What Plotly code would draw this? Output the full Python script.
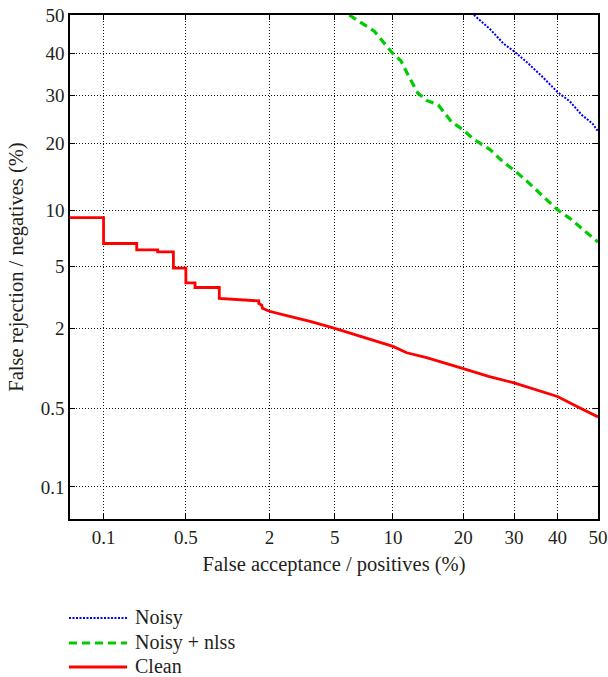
import plotly.graph_objects as go
from statistics import NormalDist

_nd = NormalDist()


def probit(pcts):
    return [_nd.inv_cdf(p / 100.0) for p in pcts]


# Tick labels (percent) on both axes
tick_values = [0.1, 0.5, 2, 5, 10, 20, 30, 40, 50]
tick_labels = ["0.1", "0.5", "2", "5", "10", "20", "30", "40", "50"]

# Clean (red, solid)
clean_fa = [0.04, 0.1, 0.1, 0.197, 0.197, 0.296, 0.296, 0.398, 0.398, 0.5, 0.5,
            0.589, 0.589, 0.897, 0.897, 1.70, 1.70, 1.78, 1.80, 2.0, 2.74, 3.6,
            5.0, 6.9, 10.0, 11.6, 14.2, 20.0, 24.7, 30.0, 34.6, 40.0, 44.9, 50.0]
clean_fr = [9.24, 9.24, 6.73, 6.73, 6.2, 6.2, 6.04, 6.04, 4.87, 4.87, 3.97,
            3.97, 3.72, 3.72, 3.17, 3.06, 2.95, 2.87, 2.74, 2.62, 2.41, 2.24,
            2.01, 1.77, 1.5, 1.35, 1.245, 1.03, 0.90, 0.80, 0.715, 0.625, 0.517, 0.425]

# Noisy + nlss (green, dashed)
nlss_fa = [6.0, 8.1, 10.0, 10.9, 11.9, 13.0, 14.2, 15.9, 18.0, 20.0, 21.7,
           25.0, 27.8, 30.0, 32.9, 36.5, 40.0, 43.0, 44.9, 50.0]
nlss_fr = [50.0, 45.8, 40.0, 38.2, 34.2, 30.5, 28.8, 27.8, 24.2, 22.6, 20.9,
           18.9, 16.7, 15.5, 13.8, 11.8, 10.1, 9.15, 8.45, 6.85]

# Noisy (blue, dotted)
noisy_fa = [21.9, 25.0, 27.8, 30.0, 32.9, 36.5, 40.0, 43.0, 45.9, 48.7, 50.0]
noisy_fr = [50.0, 46.3, 42.5, 40.6, 37.8, 34.2, 30.7, 28.6, 25.7, 23.8, 22.3]

series_names = ["Noisy", "Noisy + nlss", "Clean"]
series_colors = ["#0000ff", "#00cc00", "#ff0000"]
series_dash = ["2px,1.5px", "8px,5px", "solid"]
series_width = [2, 3.2, 2.8]

FONT = "Liberation Serif"
TXT = "#231f20"

fig = go.Figure()
data = [(noisy_fa, noisy_fr), (nlss_fa, nlss_fr), (clean_fa, clean_fr)]
for (fa, fr), name, col, dash, w in zip(data, series_names, series_colors, series_dash, series_width):
    fig.add_trace(go.Scatter(x=probit(fa), y=probit(fr), mode="lines", name=name,
                             line=dict(color=col, dash=dash, width=w),
                             showlegend=False, cliponaxis=True))

axis_common = dict(
    range=[-3.3, 0], tickmode="array", tickvals=probit(tick_values), ticktext=tick_labels,
    showgrid=True, gridcolor="#1a1a1a", griddash="1px,2px", gridwidth=1,
    showline=True, linecolor="#000000", linewidth=1.5, mirror="allticks",
    ticks="inside", ticklen=5, tickcolor="#000000", zeroline=False,
    automargin=False, ticklabeloverflow="allow",
    tickfont=dict(family=FONT, size=19, color=TXT),
)

fig.update_xaxes(**axis_common,
                 title=dict(text="False acceptance / positives (%)",
                            font=dict(family=FONT, size=20.5, color=TXT), standoff=10))
fig.update_yaxes(**axis_common,
                 title=dict(text="False rejection / negatives (%)",
                            font=dict(family=FONT, size=20.5, color=TXT), standoff=12))

W, H = 608, 677
L, R, T, B = 70, 10, 15, 158
pw, ph = W - L - R, H - T - B


def px_x(px):
    return (px - L) / pw


def px_y(py):
    return (H - B - py) / ph


legend_rows = [617, 642, 666]
for name, col, dash, w, ry in zip(series_names, series_colors, series_dash, series_width, legend_rows):
    fig.add_shape(type="line", xref="paper", yref="paper",
                  x0=px_x(69), x1=px_x(127), y0=px_y(ry + 1), y1=px_y(ry + 1),
                  line=dict(color=col, dash=dash, width=w))
    fig.add_annotation(xref="paper", yref="paper", x=px_x(134), y=px_y(ry),
                       text=name, showarrow=False, xanchor="left", yanchor="middle",
                       borderpad=0, font=dict(family=FONT, size=20, color=TXT))

fig.update_layout(
    width=W, height=H, margin=dict(l=L, r=R, t=T, b=B, autoexpand=False),
    paper_bgcolor="white", plot_bgcolor="white", showlegend=False,
    font=dict(family=FONT, color=TXT),
)

fig.write_html("out.html", config={"displayModeBar": False},
               post_script="document.body.style.margin='0';document.body.style.overflow='hidden';")
